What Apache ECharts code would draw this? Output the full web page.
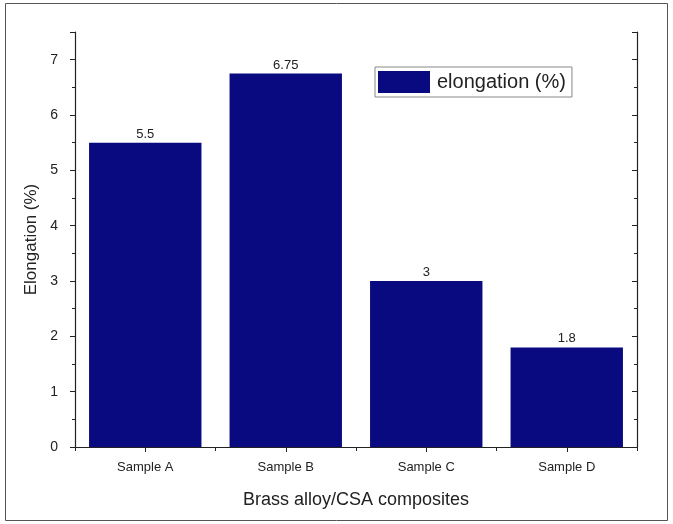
<!DOCTYPE html>
<html><head><meta charset="utf-8">
<script src="https://cdn.jsdelivr.net/npm/echarts@6/dist/echarts.min.js"></script>
<style>html,body{margin:0;padding:0;background:#fff}#c{width:673px;height:524px}</style>
</head><body><div id="c"></div>
<script>
const categories = ['Sample A', 'Sample B', 'Sample C', 'Sample D'];
const elongation = [5.5, 6.75, 3, 1.8];
const seriesName = 'elongation (%)';
const xTitle = 'Brass alloy/CSA composites';
const yTitle = 'Elongation (%)';

const chart = echarts.init(document.getElementById('c'));
const font = 'Liberation Sans, Arial, sans-serif';
const axisLine = {show: true, lineStyle: {color: '#222', width: 1.2}};
chart.setOption({
  animation: false,
  graphic: [{type: 'rect', shape: {x: 5.5, y: 3.5, width: 662, height: 517}, style: {fill: 'none', stroke: '#555', lineWidth: 1}}],
  grid: {left: 75, right: 36, top: 32, bottom: 77, containLabel: false},
  legend: {
    data: [{name: seriesName, icon: 'rect'}], left: 375, top: 67, itemWidth: 52, itemHeight: 22, itemGap: 0,
    padding: [4, 6, 4, 3], borderColor: '#888', borderWidth: 1,
    textStyle: {fontFamily: font, fontSize: 20, color: '#222', padding: [0, 0, 0, 2]}
  },
  xAxis: [
    {type: 'category', data: categories, position: 'bottom', axisLine,
      axisTick: {show: true, alignWithLabel: true, length: 5, lineStyle: {color: '#222'}},
      axisLabel: {fontFamily: font, fontSize: 13, color: '#222', margin: 14},
      name: xTitle, nameLocation: 'middle', nameGap: 44, nameTextStyle: {fontFamily: font, fontSize: 18, color: '#222'}},
    {type: 'category', data: categories, position: 'top', axisLine,
      axisTick: {show: true, inside: true, length: 4, lineStyle: {color: '#222'}}, axisLabel: {show: false}},
    {type: 'category', data: categories, position: 'bottom', axisLine,
      axisTick: {show: true, length: 3, lineStyle: {color: '#222'}}, axisLabel: {show: false}}
  ],
  yAxis: [
    {type: 'value', min: 0, max: 7.5, interval: 1, position: 'left', axisLine,
      axisTick: {show: true, length: 5, lineStyle: {color: '#222'}},
      minorTick: {show: true, splitNumber: 2, length: 3, lineStyle: {color: '#222'}},
      splitLine: {show: false},
      axisLabel: {fontFamily: font, fontSize: 14, color: '#222', margin: 17, showMaxLabel: false},
      name: yTitle, nameLocation: 'middle', nameGap: 31, nameTextStyle: {fontFamily: font, fontSize: 17, color: '#222'}},
    {type: 'value', min: 0, max: 7.5, interval: 1, position: 'right', axisLine,
      axisTick: {show: true, inside: true, length: 5, lineStyle: {color: '#222'}},
      minorTick: {show: true, splitNumber: 2, length: 3, lineStyle: {color: '#222'}},
      splitLine: {show: false}, axisLabel: {show: false}}
  ],
  series: [{
    name: seriesName, type: 'bar', data: elongation, barCategoryGap: '20%',
    itemStyle: {color: '#0a0a80'},
    label: {show: true, position: 'top', distance: 2, fontFamily: font, fontSize: 13, color: '#222'}
  }]
});
</script></body></html>
